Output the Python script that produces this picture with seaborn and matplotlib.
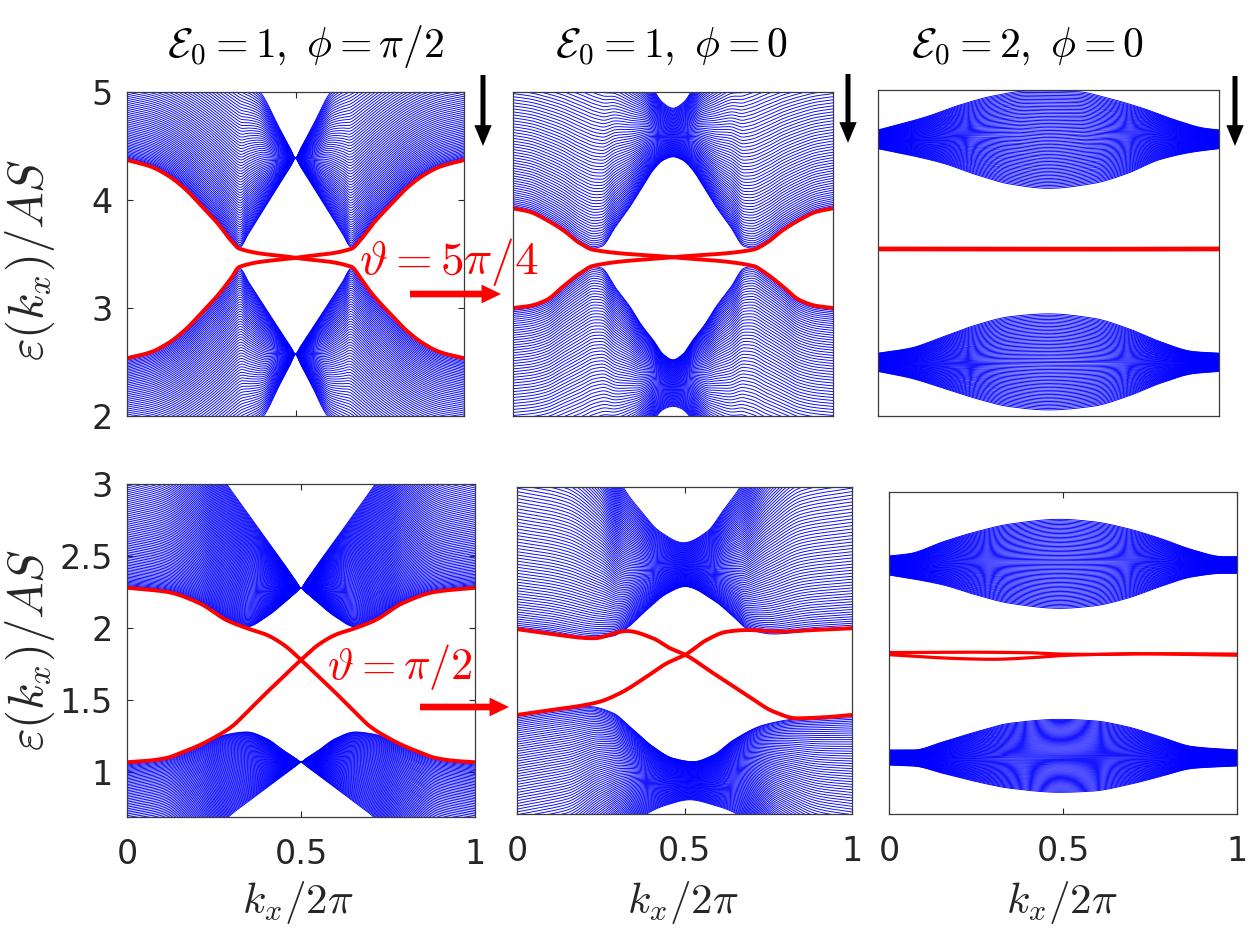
import numpy as np
import pandas as pd
import matplotlib
matplotlib.use("Agg")
import matplotlib.pyplot as plt
import seaborn as sns

sns.set_theme(style="white")
plt.rcParams["font.family"] = ["DejaVu Sans"]
plt.rcParams["mathtext.fontset"] = "cm"

# ---------------- data ----------------
# Top-left  (E0=1, phi=pi/2): half-zone envelopes (mirrored about k=0.5)
TL_k_half = [0, 0.07, 0.12, 0.17, 0.22, 0.27, 0.31, 0.335, 0.36, 0.40, 0.45, 0.485, 0.5]
TL_up_lo = [4.39, 4.33, 4.25, 4.13, 3.97, 3.80, 3.64, 3.565, 3.685, 3.885, 4.135, 4.31, 4.386]
TL_dn_hi = [2.545, 2.60, 2.68, 2.80, 2.96, 3.13, 3.29, 3.365, 3.245, 3.05, 2.81, 2.643, 2.571]
TL_kU = [0, 0.1, 0.2, 0.3, 0.35, 0.395, 0.45, 0.485, 0.5]
TL_up_hi = [5.55, 5.5, 5.4, 5.22, 5.12, 5.0, 4.68, 4.474, 4.386]
TL_kD = [0, 0.1, 0.2, 0.3, 0.35, 0.405, 0.45, 0.485, 0.5]
TL_dn_lo = [1.42, 1.45, 1.55, 1.74, 1.86, 2.0, 2.27, 2.481, 2.571]
TL_red_k = [0, 0.07, 0.12, 0.17, 0.22, 0.27, 0.31, 0.333, 0.5, 0.667, 0.69, 0.73, 0.78, 0.83, 0.88, 0.93, 1.0]
TL_redA = [4.37, 4.31, 4.23, 4.11, 3.95, 3.78, 3.62, 3.55, 3.465, 3.38, 3.29, 3.12, 2.95, 2.79, 2.67, 2.59, 2.535]
TL_redB = [2.535, 2.59, 2.67, 2.79, 2.95, 3.12, 3.28, 3.38, 3.465, 3.55, 3.62, 3.78, 3.95, 4.11, 4.23, 4.31, 4.37]

# Top-middle (E0=1, phi=0)
TM_k_half = [0, 0.053, 0.105, 0.157, 0.209, 0.251, 0.277, 0.32, 0.366, 0.40, 0.439, 0.47, 0.5]
TM_up_lo = [3.935, 3.90, 3.825, 3.73, 3.61, 3.555, 3.57, 3.75, 3.94, 4.10, 4.28, 4.37, 4.40]
TM_dn_hi = [2.99, 3.01, 3.064, 3.19, 3.31, 3.385, 3.37, 3.19, 3.01, 2.85, 2.70, 2.57, 2.52]
TM_kU = [0, 0.2, 0.3, 0.38, 0.42, 0.444, 0.465, 0.5]
TM_up_hi = [5.8, 5.75, 5.6, 5.3, 5.13, 5.0, 4.91, 4.85]
TM_kD = [0, 0.2, 0.3, 0.38, 0.42, 0.449, 0.475, 0.5]
TM_dn_lo = [1.14, 1.19, 1.34, 1.62, 1.84, 2.0, 2.07, 2.09]
TM_red_k = [0, 0.053, 0.105, 0.157, 0.209, 0.25, 0.5, 0.75, 0.791, 0.843, 0.895, 0.947, 1.0]
TM_redA = [3.923, 3.89, 3.815, 3.72, 3.60, 3.54, 3.47, 3.39, 3.32, 3.20, 3.074, 3.02, 3.0]
TM_redB = [3.0, 3.02, 3.074, 3.20, 3.32, 3.39, 3.47, 3.54, 3.60, 3.72, 3.815, 3.89, 3.923]

# Top-right (E0=2, phi=0)
TR_up_hi_k = [0, 0.143, 0.24, 0.338, 0.436, 0.5, 0.583, 0.68, 0.778, 0.876, 0.954, 1.0]
TR_up_hi = [4.632, 4.755, 4.862, 4.945, 4.99, 4.99, 4.985, 4.92, 4.83, 4.72, 4.65, 4.632]
TR_lo_k = [0, 0.094, 0.192, 0.289, 0.387, 0.5, 0.631, 0.729, 0.827, 0.925, 1.0]
TR_up_lo = [4.46, 4.40, 4.325, 4.22, 4.135, 4.095, 4.14, 4.23, 4.36, 4.43, 4.46]
TR_dn_hi = [2.578, 2.624, 2.73, 2.838, 2.914, 2.94, 2.90, 2.81, 2.685, 2.593, 2.578]
TR_dn_lo = [2.41, 2.35, 2.256, 2.16, 2.086, 2.056, 2.09, 2.178, 2.30, 2.39, 2.41]
TR_red_k = [0, 0.5, 1.0]
TR_red = [3.537, 3.535, 3.537]

# Bottom-left (E0=1, phi=pi/2, theta=pi/2)
BL_k_half = [0, 0.114, 0.21, 0.286, 0.344, 0.401, 0.449, 0.485, 0.5]
BL_up_lo = [2.29, 2.262, 2.181, 2.066, 2.009, 2.079, 2.171, 2.247, 2.278]
BL_dn_hi = [1.062, 1.10, 1.185, 1.262, 1.28, 1.234, 1.153, 1.095, 1.071]
BL_kU = [0, 0.1, 0.2, 0.286, 0.35, 0.4, 0.45, 0.485, 0.5]
BL_up_hi = [3.6, 3.5, 3.28, 3.0, 2.785, 2.617, 2.45, 2.328, 2.278]
BL_kD = [0, 0.1, 0.2, 0.296, 0.35, 0.4, 0.45, 0.485, 0.5]
BL_dn_lo = [0.2, 0.25, 0.45, 0.70, 0.80, 0.89, 0.98, 1.044, 1.071]
BL_redA_k = [0, 0.114, 0.21, 0.286, 0.344, 0.40, 0.45, 0.5, 0.55, 0.6, 0.65, 0.7, 0.75, 0.79, 0.84, 0.886, 0.94, 1.0]
BL_redA = [2.28, 2.252, 2.171, 2.056, 2.0, 1.955, 1.885, 1.78, 1.665, 1.55, 1.43, 1.315, 1.24, 1.19, 1.14, 1.10, 1.08, 1.07]
BL_redB_k = [0, 0.06, 0.114, 0.16, 0.21, 0.25, 0.3, 0.35, 0.4, 0.45, 0.5, 0.55, 0.6, 0.656, 0.714, 0.79, 0.886, 1.0]
BL_redB = [1.07, 1.08, 1.10, 1.14, 1.19, 1.24, 1.315, 1.43, 1.55, 1.665, 1.78, 1.885, 1.955, 2.0, 2.056, 2.171, 2.252, 2.28]

# Bottom-middle (E0=1, phi=0, theta=pi/2)
BM_up_lo_k = [0, 0.088, 0.228, 0.287, 0.318, 0.387, 0.447, 0.502, 0.586, 0.646, 0.686, 0.766, 0.885, 1.0]
BM_up_lo = [2.006, 1.983, 1.936, 1.952, 1.99, 2.135, 2.25, 2.30, 2.205, 2.088, 2.006, 1.966, 1.99, 2.006]
BM_up_hi_k = [0, 0.15, 0.25, 0.317, 0.367, 0.427, 0.497, 0.567, 0.617, 0.666, 0.75, 0.85, 1.0]
BM_up_hi = [3.8, 3.7, 3.4, 3.0, 2.84, 2.686, 2.608, 2.686, 2.84, 3.0, 3.4, 3.7, 3.8]
BM_dn_hi_k = [0, 0.137, 0.217, 0.287, 0.337, 0.406, 0.466, 0.526, 0.586, 0.646, 0.736, 0.835, 1.0]
BM_dn_hi = [1.395, 1.44, 1.455, 1.41, 1.314, 1.174, 1.092, 1.068, 1.115, 1.22, 1.326, 1.37, 1.395]
BM_dn_lo_k = [0, 0.15, 0.25, 0.387, 0.447, 0.516, 0.586, 0.656, 0.78, 0.9, 1.0]
BM_dn_lo = [-0.1, 0.0, 0.3, 0.70, 0.764, 0.80, 0.764, 0.70, 0.3, 0.0, -0.1]
BM_redA_k = [0, 0.088, 0.228, 0.328, 0.406, 0.457, 0.502, 0.586, 0.686, 0.766, 0.835, 0.915, 1.0]
BM_redA = [2.0, 1.971, 1.936, 1.987, 1.936, 1.866, 1.82, 1.69, 1.537, 1.42, 1.373, 1.38, 1.397]
BM_redB_k = [0, 0.088, 0.187, 0.247, 0.307, 0.387, 0.447, 0.502, 0.566, 0.626, 0.686, 0.785, 0.885, 1.0]
BM_redB = [1.397, 1.427, 1.46, 1.49, 1.549, 1.666, 1.76, 1.82, 1.924, 1.982, 1.994, 1.983, 1.994, 2.006]

# Bottom-right (E0=2, phi=0, theta=pi/2)
BR_up_k = [0, 0.06, 0.156, 0.252, 0.348, 0.491, 0.587, 0.683, 0.779, 0.874, 0.961, 1.0]
BR_up_hi = [2.543, 2.56, 2.645, 2.717, 2.771, 2.805, 2.788, 2.74, 2.669, 2.586, 2.538, 2.538]
BR_up_lo = [2.407, 2.383, 2.336, 2.264, 2.205, 2.169, 2.186, 2.24, 2.324, 2.395, 2.419, 2.419]
BR_dn_k = [0, 0.07, 0.156, 0.252, 0.348, 0.491, 0.587, 0.683, 0.779, 0.874, 1.0]
BR_dn_hi = [1.157, 1.157, 1.216, 1.288, 1.348, 1.376, 1.366, 1.324, 1.252, 1.181, 1.157]
BR_dn_lo = [1.05, 1.043, 0.99, 0.931, 0.884, 0.855, 0.864, 0.907, 0.967, 1.026, 1.043]
BR_red1_k = [0, 0.2, 0.4, 0.5, 0.6, 0.8, 1.0]
BR_red1 = [1.853, 1.856, 1.852, 1.842, 1.84, 1.845, 1.842]
BR_red2_k = [0, 0.1, 0.2, 0.3, 0.4, 0.5, 0.6, 0.7, 0.8, 1.0]
BR_red2 = [1.838, 1.822, 1.81, 1.805, 1.815, 1.832, 1.84, 1.846, 1.842, 1.834]

titles = [r"$\mathcal{E}_0=1,\ \phi=\pi/2$", r"$\mathcal{E}_0=1,\ \phi=0$", r"$\mathcal{E}_0=2,\ \phi=0$"]
ylabel = r"$\varepsilon(k_x)/AS$"
xlabel = r"$k_x/2\pi$"
TL_yticks = [2, 3, 4, 5]
BL_yticks = [1, 1.5, 2, 2.5, 3]
BL_yticklabels = ["1", "1.5", "2", "2.5", "3"]
xticks = [0, 0.5, 1]
xticklabels = ["0", "0.5", "1"]
note_top = r"$\vartheta=5\pi/4$"
note_bot = r"$\vartheta=\pi/2$"


# ---------------- helpers ----------------
def pchip(xk, yk, x):
    xk = np.asarray(xk, float)
    yk = np.asarray(yk, float)
    h = np.diff(xk)
    d = np.diff(yk) / h
    n = len(xk)
    m = np.zeros(n)
    for i in range(1, n - 1):
        if d[i - 1] * d[i] > 0:
            w1 = 2 * h[i] + h[i - 1]
            w2 = h[i] + 2 * h[i - 1]
            m[i] = (w1 + w2) / (w1 / d[i - 1] + w2 / d[i])
    m[0] = d[0]
    m[-1] = d[-1]
    i = np.clip(np.searchsorted(xk, x, side="right") - 1, 0, n - 2)
    t = (x - xk[i]) / h[i]
    t2, t3 = t * t, t * t * t
    return ((2 * t3 - 3 * t2 + 1) * yk[i] + (t3 - 2 * t2 + t) * h[i] * m[i]
            + (-2 * t3 + 3 * t2) * yk[i + 1] + (t3 - t2) * h[i] * m[i + 1])


def mirror(k_half, e_half):
    k = np.asarray(k_half, float)
    e = np.asarray(e_half, float)
    return np.concatenate([k, 1 - k[::-1][1:]]), np.concatenate([e, e[::-1][1:]])


KK = np.linspace(0, 1, 401)


def band(ax, k_lo, e_lo, k_hi, e_hi, n, dense="lo", power=1.2):
    lo = pchip(k_lo, e_lo, KK)
    hi = pchip(k_hi, e_hi, KK)
    s = np.linspace(0, 1, n)
    t = s ** power if dense == "lo" else 1 - (1 - s) ** power
    E = lo[None, :] + t[:, None] * (hi - lo)[None, :]
    df = pd.DataFrame({"k": np.tile(KK, n), "E": E.ravel(),
                       "line": np.repeat(np.arange(n), KK.size)})
    sns.lineplot(data=df, x="k", y="E", units="line", estimator=None, sort=False,
                 color=(0, 0, 1), linewidth=0.65, ax=ax, legend=False, zorder=2)


def red(ax, k, e, lw=2.8):
    df = pd.DataFrame({"k": KK, "E": pchip(k, e, KK)})
    sns.lineplot(data=df, x="k", y="E", sort=False, color=(1, 0, 0), linewidth=lw,
                 ax=ax, legend=False, zorder=5)


W, H = 1250, 932
fig = plt.figure(figsize=(W / 100, H / 100), dpi=100)


def make_ax(l, r, t, b):
    return fig.add_axes([l / W, 1 - b / H, (r - l) / W, (b - t) / H])


ax_tl = make_ax(127, 464, 92, 416)
ax_tm = make_ax(513, 833, 92, 416)
ax_tr = make_ax(878, 1219, 90, 416)
ax_bl = make_ax(127, 475, 484, 817)
ax_bm = make_ax(517, 852, 487, 814)
ax_br = make_ax(889, 1237, 492, 814)

# top-left
band(ax_tl, *mirror(TL_k_half, TL_up_lo), *mirror(TL_kU, TL_up_hi), 66, "lo")
band(ax_tl, *mirror(TL_kD, TL_dn_lo), *mirror(TL_k_half, TL_dn_hi), 66, "hi")
red(ax_tl, TL_red_k, TL_redA)
red(ax_tl, TL_red_k, TL_redB)
# top-middle
band(ax_tm, *mirror(TM_k_half, TM_up_lo), *mirror(TM_kU, TM_up_hi), 72, "lo")
band(ax_tm, *mirror(TM_kD, TM_dn_lo), *mirror(TM_k_half, TM_dn_hi), 72, "hi")
red(ax_tm, TM_red_k, TM_redA)
red(ax_tm, TM_red_k, TM_redB)
# top-right
band(ax_tr, TR_lo_k, TR_up_lo, TR_up_hi_k, TR_up_hi, 70, "lo", 1.0)
band(ax_tr, TR_lo_k, TR_dn_lo, TR_lo_k, TR_dn_hi, 70, "lo", 1.0)
red(ax_tr, TR_red_k, TR_red, lw=3.4)
# bottom-left
band(ax_bl, *mirror(BL_k_half, BL_up_lo), *mirror(BL_kU, BL_up_hi), 100, "lo")
band(ax_bl, *mirror(BL_kD, BL_dn_lo), *mirror(BL_k_half, BL_dn_hi), 75, "hi")
red(ax_bl, BL_redA_k, BL_redA)
red(ax_bl, BL_redB_k, BL_redB)
# bottom-middle
band(ax_bm, BM_up_lo_k, BM_up_lo, BM_up_hi_k, BM_up_hi, 80, "lo")
band(ax_bm, BM_dn_lo_k, BM_dn_lo, BM_dn_hi_k, BM_dn_hi, 80, "hi")
red(ax_bm, BM_redA_k, BM_redA)
red(ax_bm, BM_redB_k, BM_redB)
# bottom-right
band(ax_br, BR_up_k, BR_up_lo, BR_up_k, BR_up_hi, 70, "lo", 1.0)
band(ax_br, BR_dn_k, BR_dn_lo, BR_dn_k, BR_dn_hi, 70, "lo", 1.0)
red(ax_br, BR_red1_k, BR_red1, lw=2.3)
red(ax_br, BR_red2_k, BR_red2, lw=2.3)

for ax, yl in [(ax_tl, (2, 5)), (ax_tm, (2, 5)), (ax_tr, (2, 5)),
               (ax_bl, (0.69, 3)), (ax_bm, (0.7, 3)), (ax_br, (0.7, 3))]:
    ax.set_xlim(0, 1)
    ax.set_ylim(*yl)
    ax.set_xlabel("")
    ax.set_ylabel("")
    ax.set_xticks([])
    ax.set_yticks([])
    for s in ax.spines.values():
        s.set_color("#3a3a3a")
        s.set_linewidth(0.9)
        s.set_zorder(6)
    ax.tick_params(direction="in", length=4, width=0.8, colors="#262626",
                   top=True, right=True, bottom=True, left=True, labelsize=24)
    ax.tick_params(axis="x", pad=15)
    ax.tick_params(axis="y", pad=10)

ax_tl.set_yticks(TL_yticks)
ax_tl.set_yticklabels([str(v) for v in TL_yticks])
ax_tl.set_xticks(xticks)
ax_tl.set_xticklabels([])
ax_bl.set_yticks(BL_yticks)
ax_bl.set_yticklabels(BL_yticklabels)
for ax in (ax_bl, ax_bm, ax_br):
    ax.set_xticks(xticks)
    ax.set_xticklabels(xticklabels)
for ax in (ax_tm, ax_tr, ax_bm, ax_br):
    ax.tick_params(left=False, right=False)
for ax in (ax_tm, ax_tr):
    ax.tick_params(top=False, bottom=False)

# text
for cx, txt in zip([306, 671, 1027], titles):
    fig.text(cx / W, 1 - 46 / H, txt, ha="center", va="center", fontsize=30, color="black")
for cy in (260, 650):
    fig.text(30 / W, 1 - cy / H, ylabel, ha="center", va="center", rotation=90,
             fontsize=35, color="#262626")
for cx in (298, 683, 1062):
    fig.text(cx / W, 1 - 902 / H, xlabel, ha="center", va="center", fontsize=31, color="#262626")
fig.text(359 / W, 1 - 262 / H, note_top, ha="left", va="center", fontsize=34, color="red")
fig.text(327 / W, 1 - 667 / H, note_bot, ha="left", va="center", fontsize=32, color="red")

# overlay for arrows, in pixel units
ov = fig.add_axes([0, 0, 1, 1], zorder=20)
ov.set_xlim(0, W)
ov.set_ylim(H, 0)
ov.axis("off")
ov.patch.set_alpha(0)
for x, y0, y1 in [(483, 75, 146), (848, 74, 143), (1235, 76, 146)]:
    ov.annotate("", xy=(x, y1), xytext=(x, y0), xycoords="data",
                arrowprops=dict(facecolor="black", edgecolor="none", width=3.6,
                                headwidth=12.5, headlength=15, shrink=0))
for y, x0, x1 in [(294, 410, 501), (707, 420, 509)]:
    ov.annotate("", xy=(x1, y), xytext=(x0, y), xycoords="data",
                arrowprops=dict(facecolor="red", edgecolor="none", width=4.8,
                                headwidth=13.5, headlength=14, shrink=0))

fig.savefig("out.png", dpi=100)
